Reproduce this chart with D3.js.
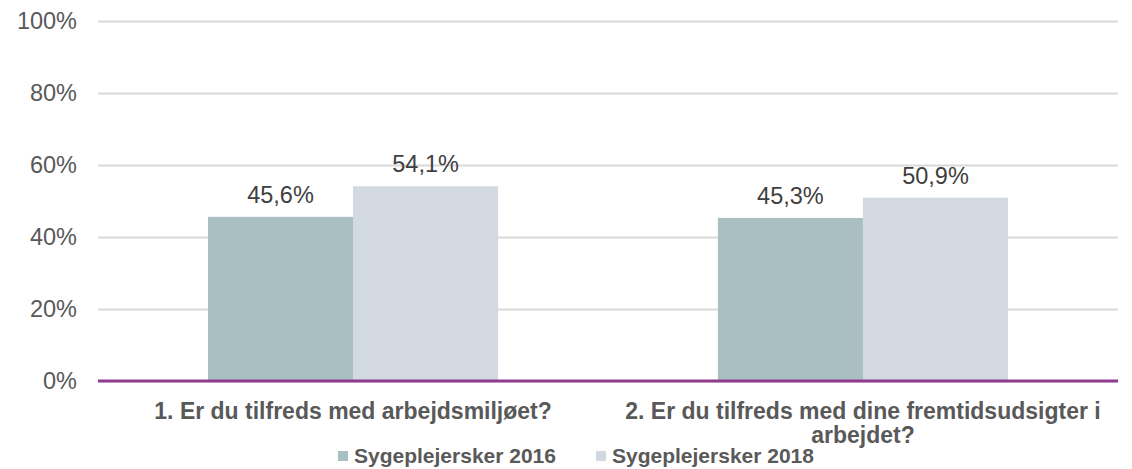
<!DOCTYPE html>
<html>
<head>
<meta charset="utf-8">
<script src="https://cdn.jsdelivr.net/npm/d3@7"></script>
<style>
  body { margin: 0; background: #fff; }
  svg { display: block; font-family: Arial, "Liberation Sans", sans-serif; }
</style>
</head>
<body>
<div id="chart"></div>
<script>
const categories = [
  ['1. Er du tilfreds med arbejdsmiljøet?'],
  ['2. Er du tilfreds med dine fremtidsudsigter i', 'arbejdet?'],
]
const seriesNames = ['Sygeplejersker 2016', 'Sygeplejersker 2018']
const values2016 = [45.6, 45.3]
const values2018 = [54.1, 50.9]
const yTicks = [0, 20, 40, 60, 80, 100]

const colors = ['#a9bfc1', '#d3d9e0']

const W = 1132, H = 469
const margin = { top: 21, right: 14, bottom: 88, left: 98 }
const width = W - margin.left - margin.right
const height = H - margin.top - margin.bottom

const svg = d3.select('#chart').append('svg').attr('width', W).attr('height', H)
const g = svg.append('g').attr('transform', `translate(${margin.left}, ${margin.top})`)

// scales
const x0 = d3.scaleBand()
  .domain(d3.range(categories.length))
  .range([0, width])
  .paddingInner(0.431)
  .paddingOuter(0.2157)
const x1 = d3.scaleBand().domain([0, 1]).range([0, x0.bandwidth()])
const y = d3.scaleLinear().domain([0, 100]).range([height, 0])

// gridlines + tick labels
const yAxis = g.append('g')
  .call(d3.axisLeft(y).tickValues(yTicks).tickSize(-width).tickPadding(21).tickFormat((d) => d + '%'))
yAxis.select('.domain').remove()
yAxis.selectAll('.tick line').attr('stroke', '#d9d9d9').attr('stroke-width', 2)
yAxis.selectAll('.tick text').attr('fill', '#595959').attr('font-size', '23.5px')
  .attr('font-family', 'Arial, "Liberation Sans", sans-serif')

// bars
const rows = categories.map((c, i) => [values2016[i], values2018[i]])
const groups = g.selectAll('.grp').data(rows).join('g')
  .attr('class', 'grp')
  .attr('transform', (d, i) => `translate(${x0(i)}, 0)`)

groups.selectAll('rect').data((d) => d).join('rect')
  .attr('x', (d, j) => x1(j))
  .attr('width', x1.bandwidth())
  .attr('y', (d) => y(d))
  .attr('height', (d) => y(0) - y(d))
  .attr('fill', (d, j) => colors[j])

groups.selectAll('.val').data((d) => d).join('text')
  .attr('class', 'val')
  .attr('x', (d, j) => x1(j) + x1.bandwidth() / 2)
  .attr('y', (d) => y(d) - 14)
  .attr('text-anchor', 'middle')
  .attr('fill', '#404040')
  .attr('font-size', '23.5px')
  .text((d) => d3.format('.1f')(d).replace('.', ',') + '%')

// zero line
g.append('line')
  .attr('x1', 0).attr('x2', width)
  .attr('y1', y(0)).attr('y2', y(0))
  .attr('stroke', '#913b8f').attr('stroke-width', 3)

// category labels
const catLabels = g.selectAll('.cat').data(categories).join('text')
  .attr('class', 'cat')
  .attr('text-anchor', 'middle')
  .attr('fill', '#595959')
  .attr('font-size', '23px')
  .attr('font-weight', 'bold')
  .attr('transform', (d, i) => `translate(${x0(i) + x0.bandwidth() / 2}, ${height + 38})`)
catLabels.selectAll('tspan').data((d) => d).join('tspan')
  .attr('x', 0)
  .attr('dy', (d, k) => (k === 0 ? 0 : 24))
  .text((d) => d)

// legend
const legendX = [338, 596]
const legend = svg.append('g').selectAll('g').data(seriesNames).join('g')
  .attr('transform', (d, i) => `translate(${legendX[i]}, 463)`)
legend.append('rect')
  .attr('x', 0).attr('y', -12).attr('width', 10).attr('height', 10)
  .attr('fill', (d, i) => colors[i])
legend.append('text')
  .attr('x', 16)
  .attr('fill', '#595959')
  .attr('font-size', '21px')
  .attr('font-weight', 'bold')
  .text((d) => d)
</script>
</body>
</html>
